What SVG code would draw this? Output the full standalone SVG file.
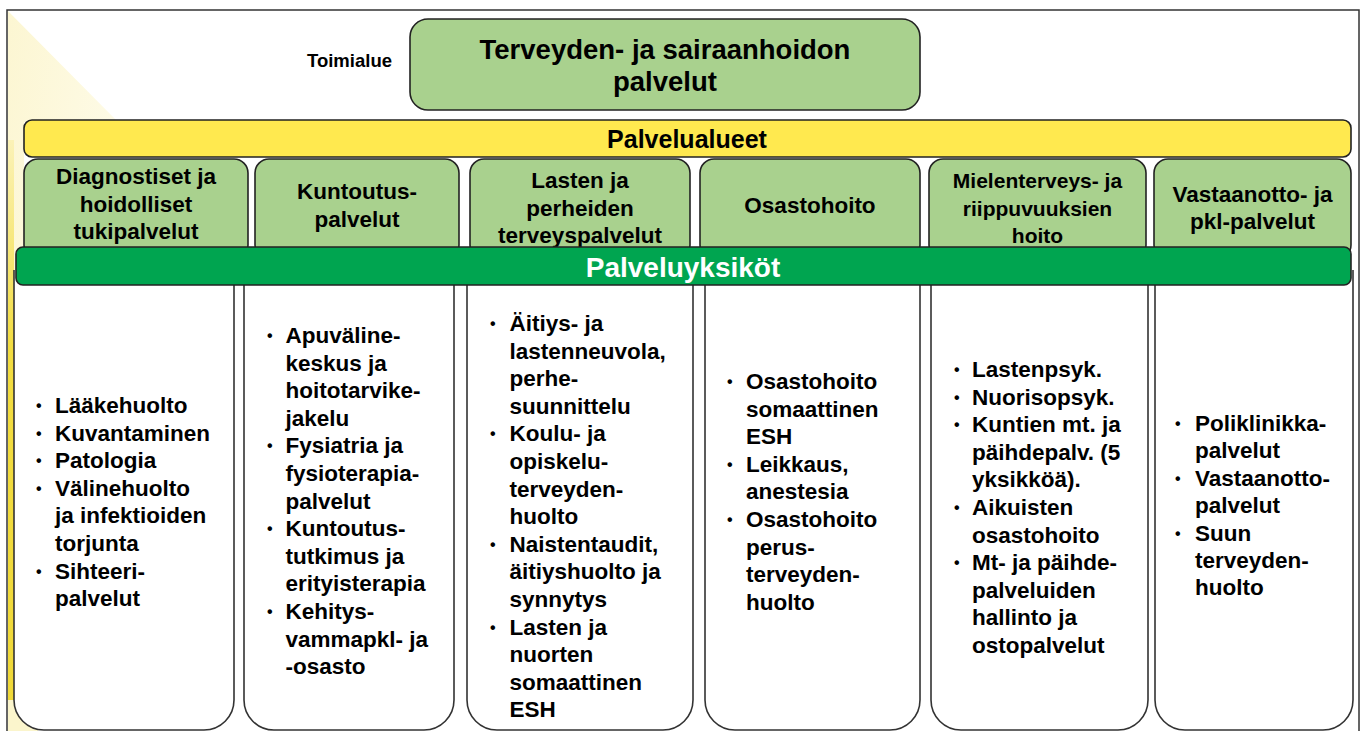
<svg xmlns="http://www.w3.org/2000/svg" width="1365" height="731" viewBox="0 0 1365 731">
<defs>
<linearGradient id="tri" x1="0" y1="0" x2="1" y2="1">
<stop offset="0" stop-color="#fcf6d2"/>
<stop offset="1" stop-color="#fffef5"/>
</linearGradient>
<linearGradient id="strip" x1="0" y1="0" x2="0" y2="1">
<stop offset="0" stop-color="#fbf2b8"/>
<stop offset="0.35" stop-color="#f2dc40"/>
<stop offset="1" stop-color="#efd838"/>
</linearGradient>
<style>
.t{font-family:"Liberation Sans",Arial,sans-serif;font-weight:bold;fill:#000}
.hdr{stroke:#222;stroke-width:1.6;fill:#a9d18e}
.col{stroke:#333;stroke-width:1.6;fill:#fff}
.b{font-size:22.5px}
.u{font-size:16px}
.c{text-anchor:middle}
</style>
</defs>
<rect x="0" y="0" width="1365" height="731" fill="#fff"/>
<g id="frame">
<rect x="7" y="10" width="1352" height="740" fill="#fff" stroke="#333" stroke-width="1.5"/>
<polygon points="8,11 118,122 24,122 24,285 14,285 14,731 8,731" fill="url(#tri)"/>
<rect x="8" y="140" width="6" height="591" fill="url(#strip)"/>
<rect x="8" y="700" width="30" height="31" fill="#fbf5cc"/>
</g>

<g id="col1"><path class="col" d="M14,270 V700 A30,30 0 0 0 44,730 H204 A30,30 0 0 0 234,700 V270"/></g>
<g id="col2"><path class="col" d="M244,270 V700 A30,30 0 0 0 274,730 H424 A30,30 0 0 0 454,700 V270"/></g>
<g id="col3"><path class="col" d="M467,270 V700 A30,30 0 0 0 497,730 H663 A30,30 0 0 0 693,700 V270"/></g>
<g id="col4"><path class="col" d="M705,270 V700 A30,30 0 0 0 735,730 H890 A30,30 0 0 0 920,700 V270"/></g>
<g id="col5"><path class="col" d="M931,270 V700 A30,30 0 0 0 961,730 H1118 A30,30 0 0 0 1148,700 V270"/></g>
<g id="col6"><path class="col" d="M1155,270 V700 A30,30 0 0 0 1185,730 H1323 A30,30 0 0 0 1353,700 V270"/></g>

<g id="box-diagnostiset">
<rect class="hdr" x="24" y="159" width="224" height="100" rx="14"/>
<text class="t b c" x="136" y="184">Diagnostiset ja<tspan x="136" dy="27.5">hoidolliset</tspan><tspan x="136" dy="27.5">tukipalvelut</tspan></text>
</g>
<g id="box-kuntoutus">
<rect class="hdr" x="255" y="159" width="204" height="100" rx="14"/>
<text class="t b c" x="357" y="199">Kuntoutus-<tspan x="357" dy="27.5">palvelut</tspan></text>
</g>
<g id="box-lasten">
<rect class="hdr" x="470" y="159" width="220" height="100" rx="14"/>
<text class="t b c" x="580" y="188">Lasten ja<tspan x="580" dy="27.5">perheiden</tspan><tspan x="580" dy="27.5">terveyspalvelut</tspan></text>
</g>
<g id="box-osastohoito">
<rect class="hdr" x="700" y="159" width="220" height="100" rx="14"/>
<text class="t b c" x="810" y="213">Osastohoito</text>
</g>
<g id="box-mielenterveys">
<rect class="hdr" x="929" y="159" width="217" height="100" rx="14"/>
<text class="t c" style="font-size:21px" x="1037.5" y="188">Mielenterveys- ja<tspan x="1037.5" dy="27.5">riippuvuuksien</tspan><tspan x="1037.5" dy="27.5">hoito</tspan></text>
</g>
<g id="box-vastaanotto">
<rect class="hdr" x="1154" y="159" width="197" height="100" rx="14"/>
<text class="t b c" x="1252.5" y="201.5">Vastaanotto- ja<tspan x="1252.5" dy="27.5">pkl-palvelut</tspan></text>
</g>

<g id="palvelualueet">
<rect x="24" y="120" width="1327" height="37" rx="8" fill="#ffe94f" stroke="#222" stroke-width="1.6"/>
<text class="t c" style="font-size:25px" x="687" y="148">Palvelualueet</text>
</g>
<g id="palveluyksikot">
<rect x="16" y="247" width="1335" height="38" rx="7" fill="#00a550" stroke="#222" stroke-width="1.6"/>
<text class="t c" style="font-size:28px;fill:#fff" x="683" y="277">Palveluyksiköt</text>
</g>
<g id="toimialue-label">
<text class="t c" style="font-size:18.5px" x="349.5" y="67">Toimialue</text>
</g>
<g id="toimialue">
<rect class="hdr" x="410" y="19" width="510" height="91" rx="18"/>
<text class="t c" style="font-size:27.5px" x="665" y="58.5">Terveyden- ja sairaanhoidon<tspan x="665" dy="32.5">palvelut</tspan></text>
</g>

<g id="connectors"/>

<g id="list1">
<text class="t u"><tspan x="36" y="411">•</tspan><tspan x="36" y="438.6">•</tspan><tspan x="36" y="466.2">•</tspan><tspan x="36" y="493.8">•</tspan><tspan x="36" y="576.6">•</tspan></text>
<text class="t b" x="55" y="413">Lääkehuolto<tspan x="55" dy="27.6">Kuvantaminen</tspan><tspan x="55" dy="27.6">Patologia</tspan><tspan x="55" dy="27.6">Välinehuolto</tspan><tspan x="55" dy="27.6">ja infektioiden</tspan><tspan x="55" dy="27.6">torjunta</tspan><tspan x="55" dy="27.6">Sihteeri-</tspan><tspan x="55" dy="27.6">palvelut</tspan></text>
</g>
<g id="list2">
<text class="t u"><tspan x="267" y="341">•</tspan><tspan x="267" y="451.4">•</tspan><tspan x="267" y="534.2">•</tspan><tspan x="267" y="617">•</tspan></text>
<text class="t b" x="285.5" y="343">Apuväline-<tspan x="285.5" dy="27.6">keskus ja</tspan><tspan x="285.5" dy="27.6">hoitotarvike-</tspan><tspan x="285.5" dy="27.6">jakelu</tspan><tspan x="285.5" dy="27.6">Fysiatria ja</tspan><tspan x="285.5" dy="27.6">fysioterapia-</tspan><tspan x="285.5" dy="27.6">palvelut</tspan><tspan x="285.5" dy="27.6">Kuntoutus-</tspan><tspan x="285.5" dy="27.6">tutkimus ja</tspan><tspan x="285.5" dy="27.6">erityisterapia</tspan><tspan x="285.5" dy="27.6">Kehitys-</tspan><tspan x="285.5" dy="27.6">vammapkl- ja</tspan><tspan x="285.5" dy="27.6">-osasto</tspan></text>
</g>
<g id="list3">
<text class="t u"><tspan x="490" y="329">•</tspan><tspan x="490" y="439.4">•</tspan><tspan x="490" y="549.8">•</tspan><tspan x="490" y="632.6">•</tspan></text>
<text class="t b" x="509.5" y="331">Äitiys- ja<tspan x="509.5" dy="27.6">lastenneuvola,</tspan><tspan x="509.5" dy="27.6">perhe-</tspan><tspan x="509.5" dy="27.6">suunnittelu</tspan><tspan x="509.5" dy="27.6">Koulu- ja</tspan><tspan x="509.5" dy="27.6">opiskelu-</tspan><tspan x="509.5" dy="27.6">terveyden-</tspan><tspan x="509.5" dy="27.6">huolto</tspan><tspan x="509.5" dy="27.6">Naistentaudit,</tspan><tspan x="509.5" dy="27.6">äitiyshuolto ja</tspan><tspan x="509.5" dy="27.6">synnytys</tspan><tspan x="509.5" dy="27.6">Lasten ja</tspan><tspan x="509.5" dy="27.6">nuorten</tspan><tspan x="509.5" dy="27.6">somaattinen</tspan><tspan x="509.5" dy="27.6">ESH</tspan></text>
</g>
<g id="list4">
<text class="t u"><tspan x="727" y="387">•</tspan><tspan x="727" y="469.8">•</tspan><tspan x="727" y="525">•</tspan></text>
<text class="t b" x="746" y="389">Osastohoito<tspan x="746" dy="27.6">somaattinen</tspan><tspan x="746" dy="27.6">ESH</tspan><tspan x="746" dy="27.6">Leikkaus,</tspan><tspan x="746" dy="27.6">anestesia</tspan><tspan x="746" dy="27.6">Osastohoito</tspan><tspan x="746" dy="27.6">perus-</tspan><tspan x="746" dy="27.6">terveyden-</tspan><tspan x="746" dy="27.6">huolto</tspan></text>
</g>
<g id="list5">
<text class="t u"><tspan x="954" y="375">•</tspan><tspan x="954" y="402.6">•</tspan><tspan x="954" y="430.2">•</tspan><tspan x="954" y="513">•</tspan><tspan x="954" y="568.2">•</tspan></text>
<text class="t b" x="972" y="377">Lastenpsyk.<tspan x="972" dy="27.6">Nuorisopsyk.</tspan><tspan x="972" dy="27.6">Kuntien mt. ja</tspan><tspan x="972" dy="27.6">päihdepalv. (5</tspan><tspan x="972" dy="27.6">yksikköä).</tspan><tspan x="972" dy="27.6">Aikuisten</tspan><tspan x="972" dy="27.6">osastohoito</tspan><tspan x="972" dy="27.6">Mt- ja päihde-</tspan><tspan x="972" dy="27.6">palveluiden</tspan><tspan x="972" dy="27.6">hallinto ja</tspan><tspan x="972" dy="27.6">ostopalvelut</tspan></text>
</g>
<g id="list6">
<text class="t u"><tspan x="1175" y="429">•</tspan><tspan x="1175" y="483.8">•</tspan><tspan x="1175" y="538.6">•</tspan></text>
<text class="t b" x="1195" y="431">Poliklinikka-<tspan x="1195" dy="27.4">palvelut</tspan><tspan x="1195" dy="27.4">Vastaanotto-</tspan><tspan x="1195" dy="27.4">palvelut</tspan><tspan x="1195" dy="27.4">Suun</tspan><tspan x="1195" dy="27.4">terveyden-</tspan><tspan x="1195" dy="27.4">huolto</tspan></text>
</g>
</svg>
